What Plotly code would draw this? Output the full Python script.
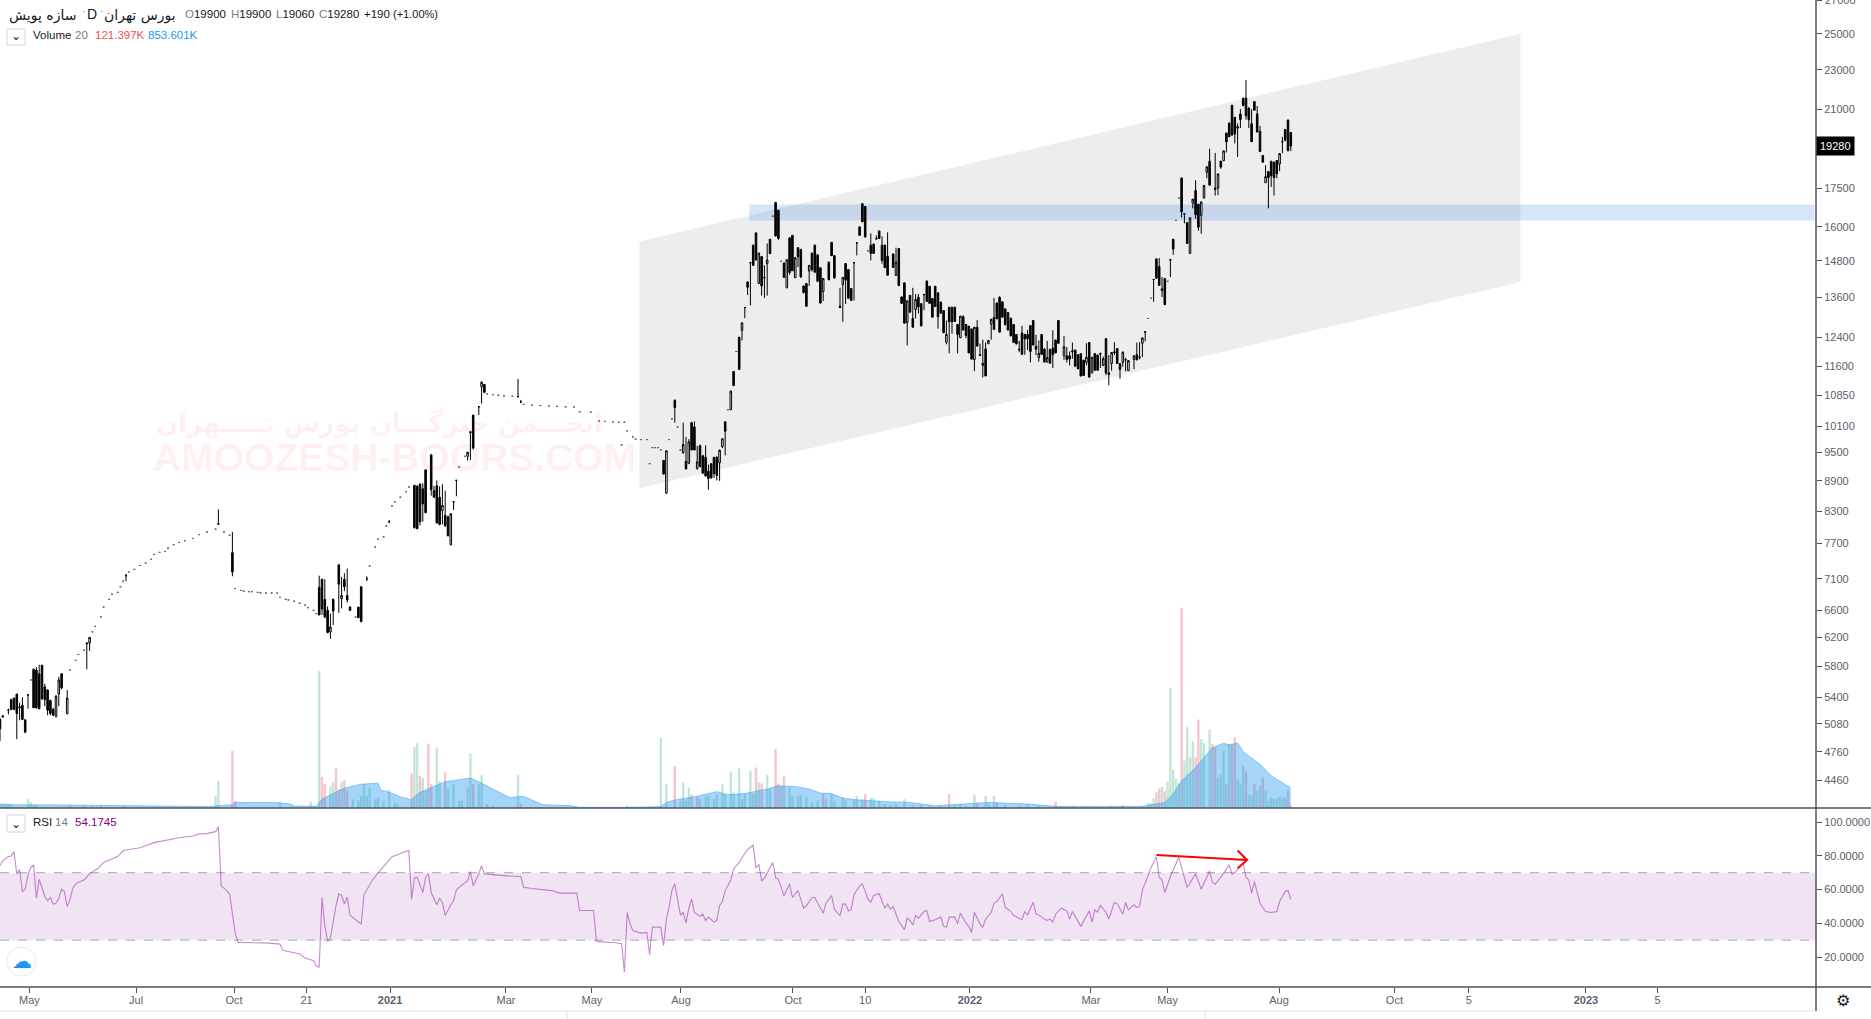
import math
import plotly.graph_objects as go

# ---- chart data -------------------------------------------------------
cd_idx = [0,1,3,4,5,6,7,8,9,10,
 12,13,14,15,16,17,18,19,20,21,
 22,24,31,32,45,78,83,114,115,116,
 117,118,119,121,122,123,124,125,128,129,
 131,139,148,149,150,151,152,154,155,156,
 157,158,159,160,161,162,163,167,168,169,
 171,172,173,185,186,237,238,241,244,245,
 246,247,248,249,250,251,252,253,254,255,
 256,257,258,259,261,262,264,265,266,267,
 268,269,270,271,272,273,274,275,277,278,
 280,281,282,283,284,285,286,287,288,289,
 290,291,292,293,294,296,297,298,300,301,
 302,303,304,305,306,307,308,309,311,312,
 313,314,315,316,317,319,320,321,322,323,
 324,325,326,327,328,329,330,331,332,333,
 334,335,336,337,338,339,340,341,342,343,
 344,345,346,347,348,349,350,351,352,353,
 354,355,356,357,358,359,360,361,362,363,
 364,365,366,367,368,369,370,371,372,373,
 374,375,376,377,378,380,381,382,383,384,
 385,386,387,388,389,390,391,392,393,394,
 395,396,397,398,399,400,401,402,403,405,
 406,407,408,409,412,413,414,415,416,418,
 419,422,423,424,425,426,427,428,429,430,
 431,432,434,435,436,437,438,439,440,441,
 442,443,444,445,446,447,448,449,450,451,
 452,453,454,455,456,457,458,459,460,461]
cd_open = [5130,5160,5240,5370,5390,5440,5270,5300,5125,5430,
 5760,5750,5700,5815,5530,5490,5360,5250,5170,5440,
 5700,5200,6120,6120,7150,8050,7540,6960,7090,6770,
 6600,6280,6770,7330,6780,7090,6830,6650,6650,6970,
 7100,8100,8810,8790,8830,8740,9130,9450,8700,8800,
 8570,8310,8220,8190,7680,8480,8910,9420,9970,10360,
 10560,11060,11120,10810,10680,9330,8650,10720,9500,9310,
 9270,10180,10080,9160,9650,9430,9400,9100,9260,9400,
 9400,9280,9630,10200,10490,11460,12400,12600,13280,14090,
 14730,15340,15780,14040,14940,14230,14700,15550,16930,16630,
 14720,13900,15600,15690,14230,15250,15190,13960,14040,14450,
 15060,15340,15000,14560,13780,14750,15440,14970,13330,14000,
 14700,14500,13880,14730,15420,16000,16880,16770,15340,15370,
 15570,15850,15340,15340,14950,15030,14300,15220,13610,14060,
 12830,13660,12950,13220,13600,13400,13690,14120,13950,13560,
 13950,13740,13450,13190,12260,13290,13290,13290,12770,12390,
 13000,12770,12720,12640,11780,12690,11910,11620,12070,12220,
 12780,12980,13420,13600,13460,13240,13130,12960,12770,12480,
 12060,12520,12480,12480,12740,12890,12150,11830,12480,12060,
 11710,12060,12090,12320,12890,11880,11880,11880,11990,12040,
 11910,11940,11760,11700,12250,11420,11940,11900,11940,11620,
 12360,11420,11670,11990,12080,11670,11700,11780,11480,11780,
 11910,11850,12230,12560,14170,14860,14600,13810,14200,14830,
 15550,17910,16480,16160,15050,16900,17400,16860,16430,17100,
 18150,18620,17440,17500,18620,18640,19870,20340,21190,20610,
 20100,20770,21540,21540,21060,20300,21370,20770,19950,18870,
 17720,18180,18620,18580,18650,18500,19470,20030,20480,19900]
cd_high = [5150,5180,5260,5380,5390,5440,5330,5400,5130,5440,
 5770,5790,5820,5815,5570,5500,5370,5270,5430,5660,
 5710,5490,6130,6200,7180,8330,7910,7150,7100,7090,
 6660,6550,6780,7340,7130,7190,7270,6660,6650,6970,
 7140,8130,8810,8810,8850,8850,9130,9470,8800,8910,
 8790,8830,8700,8210,8250,8490,8920,9510,9970,10360,
 10570,11190,11120,11260,10730,9340,9540,10740,10180,9850,
 9800,10200,10210,9650,9680,9450,9660,9240,9260,9400,
 9420,9570,9820,10210,10960,11470,12410,12830,13290,14100,
 14740,15350,15790,15070,14950,14640,15400,15560,16950,16630,
 14730,14840,15610,15700,14930,15260,15200,13970,14050,14650,
 15070,15350,15010,14560,14210,14760,15450,14980,13900,14240,
 14710,14510,13890,14740,15430,16020,16890,16780,15760,15400,
 15690,15860,15650,15350,15800,15040,15250,15230,13620,14070,
 13490,13670,13900,13700,13700,13410,13700,14130,13960,13570,
 13960,13750,13460,13200,12890,13300,13310,13300,12790,13030,
 13050,12780,12730,12650,12700,12900,12220,12330,12250,12320,
 12950,13580,13440,13630,13470,13250,13150,12970,12780,12490,
 12300,12730,12500,12610,12750,12900,12470,12310,12490,12100,
 12300,12070,12600,12330,12900,12440,12120,12000,12250,12050,
 11920,11950,11770,12230,12260,11850,11950,11920,11970,11860,
 12370,11900,11980,12260,12090,11680,12000,11830,11750,11890,
 12250,12260,12400,12570,14180,14870,14890,14250,14210,14840,
 15560,17930,16500,16170,16350,17060,17820,16870,16950,17620,
 18390,19170,18980,18100,18630,19070,19880,20350,21200,20620,
 20320,21000,21560,22460,21070,21000,21390,21150,20200,18880,
 18450,18200,18630,18600,18660,18950,19700,20050,20490,19900]
cd_low = [4880,5150,5190,5240,5240,4900,5120,5130,4980,5260,
 5270,5260,5250,5370,5290,5180,5180,5170,5150,5290,
 5500,5190,5760,6010,7060,8050,7140,6530,6530,6480,
 6260,6180,6380,6560,6630,6900,6720,6590,6480,6420,
 7060,8070,7970,7960,8030,8100,8260,8600,8560,8060,
 8030,8050,8000,7830,7670,8320,8590,9330,9340,9570,
 10360,10640,10900,10800,10650,9040,8640,10180,9470,9140,
 9250,9550,9550,9130,9180,9050,8990,8720,8950,8960,
 8910,8900,9600,9440,10480,11080,11510,12310,12960,13670,
 13350,14640,14820,14040,13650,13580,13650,15030,15650,15530,
 14230,13890,14330,14450,14220,14580,14230,13720,13310,13960,
 14430,14400,14100,13400,13480,14150,14960,14200,13270,12850,
 13390,13560,13490,13500,14980,15680,16180,15620,14810,15040,
 15550,15570,14700,14550,14300,14560,14300,13960,13400,12800,
 12170,13130,12680,12950,13100,12720,13200,13460,13400,12980,
 13300,12650,13100,12520,12200,11950,12500,12850,11950,12380,
 12600,12370,11950,11780,11470,12140,11880,11300,11340,12200,
 12330,12620,12930,12530,12980,12750,12600,12430,12240,12200,
 11980,11910,11910,12040,11700,12170,11900,11720,11910,11700,
 11700,11670,11550,11950,12220,11770,11700,11620,11800,11590,
 11520,11330,11340,11620,11300,11410,11480,11480,11550,11600,
 11360,11100,11480,11900,11660,11270,11580,11460,11470,11520,
 11760,11780,11850,12280,13460,14200,13970,13610,13360,14250,
 15000,16350,16130,15390,15040,16700,16300,15860,15750,17100,
 17900,17610,17200,17210,18300,18640,19000,19700,19760,19400,
 18800,20100,21150,20500,20100,19470,20940,19900,19030,18570,
 17720,16700,17550,17200,17900,18200,18970,19500,19040,19060]
cd_close = [5020,5170,5240,5250,5250,5200,5280,5130,4980,5430,
 5270,5270,5260,5380,5370,5240,5200,5180,5410,5620,
 5520,5390,6110,6200,7150,8060,7210,6530,6620,6500,
 6270,6350,6590,7010,6830,6970,6760,6600,6490,6430,
 7100,8100,7990,7970,8100,8440,8270,8720,8570,8080,
 8050,8410,8030,7840,8250,8480,8910,9510,9950,9600,
 10560,11180,10920,10810,10680,9040,9540,10540,9680,9150,
 9740,9560,9560,9300,9200,9060,9000,8950,8960,9050,
 9010,9550,9810,9980,10950,11090,11510,12820,13280,13920,
 14730,14640,14820,15060,13960,14230,14820,15040,15670,15580,
 14240,14830,14400,14460,14900,14930,14250,13750,13320,14640,
 14500,14410,14110,13420,14200,14160,14970,14220,13280,14240,
 14150,13570,13500,14730,15420,15690,16190,15630,15050,15050,
 15560,15580,14810,14560,14310,14570,14750,13970,13410,12810,
 13490,13140,12690,13530,13300,12730,13680,13470,13410,12990,
 13310,13000,13110,12530,12480,12850,12850,12860,12480,13020,
 12610,12450,11960,11790,12690,12150,11890,11680,11340,12310,
 12920,12630,12940,12550,12990,12760,12610,12440,12250,12210,
 12050,11920,12350,12350,12000,12180,12060,11950,11920,11710,
 11830,11680,11910,11960,12230,12130,11780,11790,12020,11600,
 11530,11340,11350,11840,11310,11840,11490,11490,11930,11800,
 11420,11380,11970,11970,11670,11510,11980,11770,11750,11880,
 11770,11840,12380,12550,14170,14210,13980,13870,13370,14820,
 15200,16570,16490,15400,16340,17060,16460,15990,16950,17610,
 18380,17620,17500,18080,18370,19070,19470,19700,19780,19830,
 20170,20500,21170,20680,20490,19480,20950,19920,19040,18580,
 17970,17930,18000,17930,18090,18950,19470,19540,19090,19280]

dot_idx = [11,25,27,28,30,33,34,36,37,39,40,42,43,44,46,48,50,52,54,55,57,59,60,62,64,66,69,71,74,77,80,82,
 84,86,87,89,90,92,93,95,97,99,100,102,103,105,107,109,110,112,113,127,132,134,135,137,138,140,141,143,145,146,
 164,166,174,176,178,180,183,187,190,193,196,199,202,205,207,211,214,216,219,221,222,223,224,226,227,229,231,
 232,233,234,235,236,239,240,242,243,260,263,276,279,310,410,411,417,420,421]
dot_price = [5620,5750,5880,5960,6020,6280,6360,6500,6650,6770,6850,6880,6970,7060,7210,7255,7320,7360,7425,7510,7545,7560,7620,7680,7720,7750,7790,7860,7910,7960,7910,7850,
 6940,6910,6900,6890,6890,6880,6870,6870,6870,6870,6800,6770,6760,6740,6710,6680,6640,6600,6550,6500,7310,7640,7780,7820,8020,8400,8480,8570,8680,8775,
 9190,9420,10880,10860,10850,10830,10820,10620,10600,10590,10580,10570,10560,10555,10440,10430,10220,10210,10200,10190,9670,10190,9990,9850,9800,9790,9790,
 9260,9610,9610,9610,9560,9790,10270,10080,9560,10490,12000,16400,14780,15140,12950,13570,14110,16240,17100]

vol_idx = [0,1,2,3,4,10,11,12,13,25,30,33,36,44,77,78,83,84,100,104,111,114,115,116,118,119,120,121,122,123,124,126,128,129,130,131,132,
 134,135,137,139,141,142,147,148,149,150,151,152,153,154,156,157,159,160,162,164,165,167,168,169,171,172,174,176,185,186,224,
 236,238,241,243,244,245,246,247,249,250,252,253,255,256,258,259,261,262,264,265,266,268,269,270,271,272,274,275,277,278,279,280,282,283,285,286,288,290,292,294,295,297,298,
 301,302,305,306,308,309,311,312,314,316,318,320,323,326,329,332,336,339,341,343,345,348,349,352,353,355,356,359,364,367,371,377,379,383,388,397,401,405,
 408,410,411,412,413,414,415,416,417,418,419,420,421,422,423,424,425,426,427,428,429,430,432,433,434,435,436,437,438,439,440,441,442,443,444,445,446,447,448,449,450,451,452,453,454,455,456,457,458,459,460,461]
vol_val = [170,150,170,150,160,380,250,120,100,140,110,90,130,80,520,1160,2440,300,270,60,270,5850,1330,1020,920,1090,1690,800,1120,1190,740,380,310,520,1020,520,880,
 380,460,310,770,240,170,1480,2610,2770,1380,1280,740,2750,1020,2580,1160,1520,810,1020,310,310,880,2340,1020,1020,1400,170,100,1420,170,100,
 3010,1020,1800,310,1090,310,880,570,480,380,480,525,380,570,1020,600,1550,670,1690,380,600,1590,600,1730,1090,1050,1420,810,2530,1050,950,1360,880,525,525,570,480,240,310,600,380,600,310,
 450,310,340,525,380,600,425,425,310,170,140,170,380,100,130,100,100,600,140,170,100,570,200,525,210,525,240,130,90,170,100,270,70,85,60,100,130,60,
 70,200,200,425,670,825,910,710,1140,5140,1660,1250,1060,8560,2030,3480,2170,2840,2160,3780,2950,2770,3350,2740,2580,1300,1420,2480,1020,2750,2700,3020,1200,1060,1820,1560,570,540,1040,750,950,1300,780,310,450,400,400,500,450,450,780,121.397]
vol_red = {3,83,84,115,116,120,121,123,124,147,150,153,154,159,169,174,186,
 241,247,249,270,272,277,278,280,294,309,339,349,356,377,413,414,416,422,427,428,433,434,438,440,441,445,448,451,460,461}

ma_idx = [0,5,23,45,56,68,75,78,83,84,90,98,104,105,113,115,119,123,129,135,136,139,143,147,148,150,155,159,168,171,176,182,187,194,204,207,226,
 236,238,241,248,256,260,266,274,278,284,289,293,297,301,307,317,325,334,344,353,367,377,394,408,416,419,422,427,433,437,439,442,444,450,454,461]
ma_val = [170,140,130,100,85,60,60,100,140,230,240,240,170,85,70,380,620,850,1020,1060,770,670,480,355,480,670,920,1120,1280,1120,810,450,500,140,100,30,30,
 60,240,340,480,700,570,620,810,950,920,810,640,620,425,340,270,240,100,170,240,170,70,60,70,240,600,1160,1730,2580,2770,2700,2780,2410,1870,1380,853.601]

rsi_idx = [0,1,3,4,5,6,7,8,9,10,11,12,13,14,16,17,18,19,20,21,22,23,24,25,26,27,28,30,32,34,35,37,39,42,44,47,50,55,58,64,69,71,74,77,78,79,81,82,84,85,96,100,101,105,107,109,112,113,114,115,116,117,118,120,121,122,123,124,125,127,129,130,131,133,135,137,138,140,142,144,146,147,148,149,151,152,153,154,156,157,158,159,161,162,163,165,167,168,169,171,172,173,181,186,187,190,197,200,206,207,212,213,220,222,223,224,225,226,229,
 231,232,233,236,237,238,239,240,241,243,244,245,246,247,248,250,251,252,253,255,256,257,258,259,261,262,264,267,269,270,271,272,273,275,276,277,278,280,282,283,285,287,288,290,291,294,295,297,298,300,301,302,303,304,305,307,308,310,311,312,314,316,317,318,319,321,323,324,325,326,327,328,330,331,332,334,336,337,338,339,341,342,343,345,346,347,348,350,351,352,354,355,356,358,359,361,362,365,366,367,369,370,371,373,374,375,376,377,379,381,382,383,385,386,389,390,391,392,393,395,396,398,399,401,402,403,405,406,407,408,409,411,413,414,415,416,418,421,424,427,429,432,433,434,436,439,440,441,444,445,446,447,448,450,452,454,456,457,458,459,460,461]
rsi_val = [74.2,77,79.5,79.9,82.5,69.3,72,58.8,60.2,68.7,73,74.6,54.9,66.1,55.9,53.5,55.3,51.4,51.9,54.9,60.2,58.8,50,53.9,60.8,63.2,64.4,65.7,69.3,71.2,72.6,76,77.5,79.5,83.1,84,84.8,87.8,88.8,90.7,91.7,92.9,93.3,94.3,97.2,62.2,59.4,57.3,34.2,28.7,28.3,27.7,24,22.8,21.8,19.4,17.9,14.5,14.1,55.3,38.6,29.3,31.3,50.4,57.5,56.5,51.6,55.5,45,42.1,39.5,56.9,59.8,65.7,69.7,74,75.6,79.5,80.5,81.9,83.1,54.3,66.7,67.3,58.2,67.3,69.3,58.2,51,54.9,52.3,44.7,51,53.3,59.8,62.8,65.1,70.7,62.2,69.3,74.2,69.3,68.1,67.7,61.4,60.6,59.4,57.9,57.9,47.6,47.6,29.3,28.5,27.9,11.2,46.4,39.7,35.8,34.2,
 34.6,21.4,37.8,37.6,26.7,42.5,50,59.8,63.4,45,46.4,40.1,49,54.5,46.4,44.1,45.4,41.7,43.7,40.7,41.7,50.4,52.9,59.4,65.7,72.2,76.2,83.9,86.2,72.6,75,65.1,66.7,73,76,67.1,66.1,56.3,63.4,55.3,59.4,49,50.4,55.3,55.3,46,51.9,56.5,48.4,44.5,51.4,51.4,47.4,48.4,56.9,62.2,63.4,54.3,52.5,56.5,57.5,49,51.4,48.4,50,41.1,36.2,43.1,41.7,39.1,44.7,43.1,47,47.6,41.1,42.1,43.7,38.2,37.8,43.7,43.7,39.7,46,40.1,38.2,34.6,46.6,39.7,37.6,42.5,46.4,51.9,52.9,57.5,49.6,47,44.7,42.1,47,45,52.5,45.6,45,42.5,41.7,42.5,40.7,45.4,49,47.4,42.5,47,40.7,38.2,47.4,40.7,48,46.6,50.6,46.4,42.5,52.3,51.6,45.4,52.3,48,51,49.4,50,59.8,63.8,72.6,79.5,67.3,65.7,58.2,67.7,79.1,61.2,69.3,60.2,71,64.2,63.2,67.3,74.6,69.1,70.1,75.6,67.3,65.7,57.9,64.7,51.9,47,46.4,47,52.9,56,59,59.5,54.1745]

channel_idx = [228.4, 543, 543, 228.4, 228.4]
channel_price = [15470, 25000, 14087, 8750, 15470]
zone_idx = [267.6, 648, 648, 267.6, 267.6]
zone_price = [16850, 16850, 16237, 16237, 16850]
arrow_idx = [413, 445.4]
arrow_rsi = [80.5, 77.5]
arrow_head_idx = [442, 445.4, 442]
arrow_head_rsi = [83.1, 77.5, 72.6]

price_ticks = [27000,25000,23000,21000,19000,17500,16000,14800,13600,12400,11600,10850,10100,9500,8900,8300,7700,7100,6600,6200,5800,5400,5080,4760,4460]
price_tick_text = ["","25000","23000","21000","","17500","16000","14800","13600","12400","11600","10850","10100","9500","8900","8300","7700","7100","6600","6200","5800","5400","5080","4760","4460"]
rsi_ticks = [100,80,60,40,20]
time_tick_idx = [10.5,48.6,83.6,109.5,139.3,180.7,211.4,243.2,283.2,309,346.4,389.6,417,456.8,498,524.6,566.4,592]
time_tick_text = ["May","Jul","Oct","21","<b>2021</b>","Mar","May","Aug","Oct","10","<b>2022</b>","Mar","May","Aug","Oct","5","<b>2023</b>","5"]
last_close = 19280

# ---- page geometry ----------------------------------------------------
W, H = 1871, 1019
AXIS_X = 1816
PANE_Y = 808
BOTTOM_Y = 987
px = lambda v: v / W
py = lambda v: 1 - v / H
INK = "#131722"
AXC = "#50535e"
GRAY = "#787b86"
FONT = "Liberation Sans, DejaVu Sans, sans-serif"

fig = go.Figure()

# base layer: channel and zone
fig.add_trace(go.Scatter(x=channel_idx, y=channel_price, xaxis="x", yaxis="y", mode="lines",
                         line=dict(width=0), fill="toself", fillcolor="#ededed", hoverinfo="skip"))
fig.add_trace(go.Scatter(x=zone_idx, y=zone_price, xaxis="x", yaxis="y", mode="lines",
                         line=dict(width=0), fill="toself", fillcolor="rgba(50,125,230,0.2)", hoverinfo="skip"))

# volume overlay
bar_colors = ["rgba(238,84,101,0.35)" if i in vol_red else "rgba(78,184,135,0.35)" for i in vol_idx]
fig.add_trace(go.Bar(x=vol_idx, y=vol_val, xaxis="x", yaxis="y2", marker=dict(color=bar_colors, line=dict(width=0)),
                     width=0.85, hoverinfo="skip"))
fig.add_trace(go.Scatter(x=ma_idx, y=ma_val, xaxis="x", yaxis="y2", mode="lines",
                         line=dict(color="rgba(33,150,243,0.45)", width=1), fill="tozeroy",
                         fillcolor="rgba(33,150,243,0.4)", hoverinfo="skip"))

# candles
candle_style = dict(
    increasing=dict(line=dict(color="#000000", width=1), fillcolor="#ffffff"),
    decreasing=dict(line=dict(color="#000000", width=1), fillcolor="#000000"),
    whiskerwidth=0,
)
fig.add_trace(go.Candlestick(x=cd_idx, open=cd_open, high=cd_high, low=cd_low, close=cd_close,
                             xaxis="x", yaxis="y4", **candle_style))
fig.add_trace(go.Candlestick(x=dot_idx, open=dot_price, high=dot_price, low=dot_price, close=dot_price,
                             xaxis="x", yaxis="y4", opacity=0.6, **candle_style))

# RSI
fig.add_trace(go.Scatter(x=rsi_idx, y=rsi_val, xaxis="x2", yaxis="y3", mode="lines",
                         line=dict(color="rgba(156,39,176,0.55)", width=1.1), hoverinfo="skip"))
fig.add_trace(go.Scatter(x=arrow_idx, y=arrow_rsi, xaxis="x2", yaxis="y3", mode="lines",
                         line=dict(color="#ff0000", width=2), hoverinfo="skip"))
fig.add_trace(go.Scatter(x=arrow_head_idx, y=arrow_head_rsi, xaxis="x2", yaxis="y3", mode="lines",
                         line=dict(color="#ff0000", width=2), hoverinfo="skip"))

x_range = [0, AXIS_X / 2.8]
y_range = [math.log10(4181), math.log10(27020)]
main_dom = [py(PANE_Y), 1]
tickfont = dict(family=FONT, size=11, color="#5d606b")
fig.update_layout(
    width=W, height=H, margin=dict(l=0, r=0, t=0, b=0), autosize=False,
    paper_bgcolor="#ffffff", plot_bgcolor="#ffffff", showlegend=False, barmode="overlay",
    boxgap=0.2, font=dict(family=FONT, color=INK),
    xaxis=dict(domain=[0, px(AXIS_X)], range=x_range, anchor="y", showgrid=False, zeroline=False,
               showticklabels=False, ticks="", rangeslider=dict(visible=False)),
    xaxis2=dict(domain=[0, px(AXIS_X)], range=x_range, anchor="y3", showgrid=False, zeroline=False,
                tickmode="array", tickvals=time_tick_idx, ticktext=time_tick_text, ticks="outside",
                ticklen=5, tickcolor=AXC, tickangle=0, tickfont=tickfont, showline=False,
                ticklabelstandoff=-2),
    yaxis=dict(domain=main_dom, type="log", range=y_range, side="right", anchor="x", showgrid=False,
               zeroline=False, tickmode="array", tickvals=price_ticks, ticktext=price_tick_text,
               ticks="outside", ticklen=5, tickcolor=AXC, tickfont=tickfont, showline=False),
    yaxis2=dict(domain=main_dom, range=[0, (PANE_Y + 1) * 42.7], overlaying="y", side="left", visible=False),
    yaxis4=dict(domain=main_dom, type="log", range=y_range, overlaying="y", side="left", visible=False),
    yaxis3=dict(domain=[py(BOTTOM_Y), py(PANE_Y)], range=[2.3, 108.3], side="right", anchor="x2", showgrid=False,
                zeroline=False, tickmode="array", tickvals=rsi_ticks, ticktext=[f"{t:.4f}" for t in rsi_ticks],
                ticks="outside", ticklen=5, tickcolor=AXC, tickfont=tickfont, showline=False),
)

# RSI band and guides
fig.add_shape(type="rect", xref="x2 domain", yref="y3", x0=0, x1=1, y0=30, y1=70,
              fillcolor="#f0e4f2", line_width=0, layer="below")
for lvl in (30, 70):
    fig.add_shape(type="line", xref="x2 domain", yref="y3", x0=0, x1=1, y0=lvl, y1=lvl,
                  line=dict(color="#b9b5bc", width=1.3, dash="dash"), layer="below")

# pane frame
def hline(y, x0=0, x1=W, color=AXC, width=1.5):
    fig.add_shape(type="line", xref="paper", yref="paper", x0=px(x0), x1=px(x1), y0=py(y), y1=py(y),
                  line=dict(color=color, width=width))
hline(PANE_Y)
hline(BOTTOM_Y)
hline(1011, 0, 567, "#e0e3eb", 1)
hline(1011, 1205, AXIS_X, "#e0e3eb", 1)
fig.add_shape(type="line", xref="paper", yref="paper", x0=px(AXIS_X), x1=px(AXIS_X), y0=py(0), y1=py(1011),
              line=dict(color=AXC, width=1.5))
fig.add_shape(type="rect", xref="paper", yref="paper", x0=px(567), x1=px(1205), y0=py(1011), y1=py(1030),
              line=dict(color="#e0e3eb", width=1), fillcolor="#ffffff")

# small buttons
for top, bot in ((29, 45), (815, 832)):
    fig.add_shape(type="rect", xref="paper", yref="paper", x0=px(7), x1=px(25), y0=py(top), y1=py(bot),
                  line=dict(color="#d1d4dc", width=1), fillcolor="#ffffff")
fig.add_shape(type="circle", xref="paper", yref="paper", x0=px(7), x1=px(36), y0=py(947), y1=py(976),
              line=dict(color="#e8e8ee", width=1), fillcolor="#ffffff")

# texts
def label(x, y, text, color=INK, size=11.5, anchor="left", family=FONT, yref="paper", bg=None):
    fig.add_annotation(x=px(x), y=py(y) if yref == "paper" else y, xref="paper", yref=yref, text=text,
                       showarrow=False, xanchor=anchor, yanchor="middle", borderpad=0,
                       font=dict(family=family, size=size, color=color), bgcolor=bg)

DJ = "DejaVu Sans"
label(77, 15, "سازه پویش", size=14, anchor="right", family=DJ)
label(81, 11, "·", GRAY, 10)
label(86, 14, "D", size=14)
label(99, 11, "·", GRAY, 10)
label(177, 15, "بورس تهران", size=14, anchor="right", family=DJ)
def ohlc(letter, value):
    return f"<span style='color:{GRAY}'>{letter}</span>{value}"
label(184, 14, ohlc("O", 19900))
label(230, 14, ohlc("H", 19900))
label(275, 14, ohlc("L", 19060))
label(318, 14, ohlc("C", 19280))
label(363, 14, "+190")
label(392, 14, "(+1.00%)", size=11)
label(16, 36, "⌄", size=12, anchor="center", family=DJ)
label(32, 35, "Volume")
label(74, 35, "20", GRAY)
label(94, 35, "121.397K", "#ef5350")
label(147, 35, "853.601K", "#2196f3")
label(16, 824, "⌄", size=12, anchor="center", family=DJ)
label(32, 822, "RSI")
label(54, 822, "14", GRAY)
label(74, 822, "54.1745", "#800080")
label(21.5, 961, "☁", "#2196f3", 20, "center", DJ)
label(1843, 1000, "⚙", "#131722", 16, "center", DJ)
label(1824, 0, "27000", "#5d606b", 11)

fig.add_annotation(x=px(AXIS_X), y=math.log10(last_close), xref="paper", yref="y", text=str(last_close),
                   showarrow=False, xanchor="left", yanchor="middle", bgcolor="#000000", borderpad=3,
                   font=dict(family=FONT, size=11, color="#ffffff"))

WM = "rgba(255,0,0,0.07)"
label(379, 423, "<b>انجـــمن خبرگـــان بورس تـــــهران</b>", WM, 26, "center", DJ)
label(394, 457, "<b>AMOOZESH-BOORS.COM</b>", WM, 39, "center")

fig.write_html("out.html", post_script="document.body.style.margin='0';", config={"displayModeBar": False})
